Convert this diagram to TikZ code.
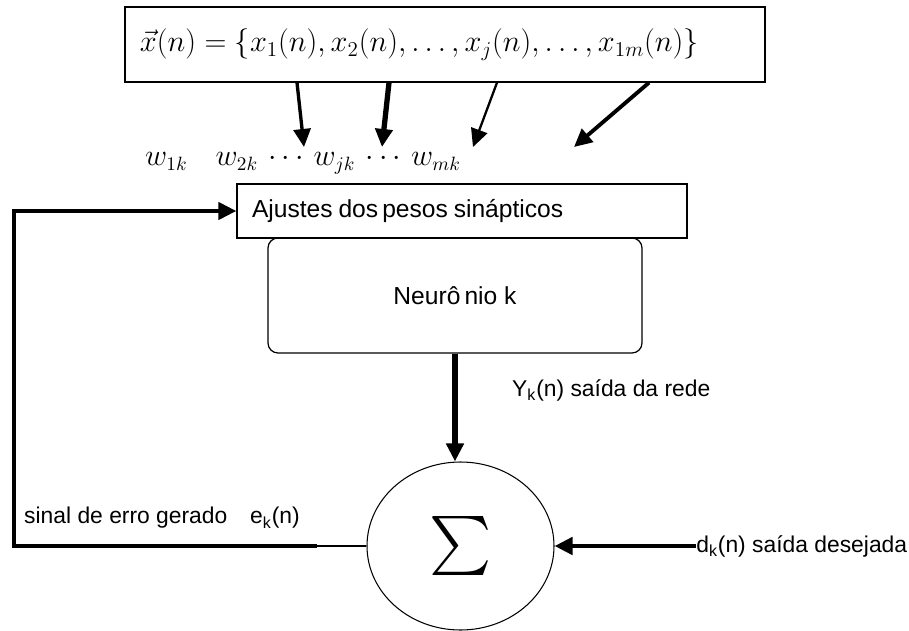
\documentclass[tikz,border=0pt]{standalone}
\usepackage{amsmath}
\usepackage{exscale}
\usepackage{graphicx}
\usepackage{fontspec}
\setmainfont{Liberation Sans}
\usepackage{tikz}
\usetikzlibrary{arrows.meta,positioning,calc,shapes.geometric}
\newcommand{\lbl}{\fontsize{13}{15}\selectfont}

\begin{document}
\begin{tikzpicture}[
    box/.style={draw, line width=0.7pt, inner sep=0pt},
    tip/.style={-{Triangle[length=0.36cm, width=0.34cm]}},
  ]
      \useasboundingbox (0, 0) rectangle (18.18, 12.6);

      \node[box, text width=12.2cm, inner xsep=0.3cm, minimum height=1.5cm, align=left] (xvec) at (8.9, 11.71)
        {\fontsize{17.5}{20}\selectfont $\vec{x}(n) = \{x_1(n), x_2(n), \ldots, x_j(n), \ldots, x_{1m}(n)\}$};

      \coordinate (w1) at (6.08, 9.66);
      \coordinate (w2) at (7.64, 9.66);
      \coordinate (w3) at (9.46, 9.66);
      \coordinate (w4) at (11.48, 9.66);
      \draw[tip, line width=1.9pt] ([xshift=-2.96cm]xvec.south) -- (w1);
      \draw[tip, line width=3pt] ([xshift=-1.12cm]xvec.south) -- (w2);
      \draw[tip, line width=1.3pt] ([xshift=1.04cm]xvec.south) -- (w3);
      \draw[tip, line width=2.2pt] ([xshift=4.08cm]xvec.south) -- (w4);

      \node (wts) at (6.06, 9.34) {\fontsize{16}{18}\selectfont $w_{1k}\quad w_{2k}\,\cdots\,w_{jk}\,\cdots\,w_{mk}$};

      \node[box, text width=8.4cm, inner xsep=0.3cm, minimum height=1.08cm, align=left] (ajuste) at (9.24, 8.38)
        {\fontsize{14}{16}\selectfont Ajustes dos\,pesos sinápticos};
      \node[box, rounded corners=0.2cm, minimum width=7.48cm, minimum height=2.3cm] (neuron) at (9.1, 6.69)
        {\fontsize{14}{16}\selectfont Neurô\,nio k};

      \node[draw, ellipse, line width=0.6pt, minimum width=3.74cm, minimum height=3.36cm, inner sep=0pt] (sum) at (9.21, 1.68)
        {\fontsize{34}{40}\selectfont \scalebox{1.35}{$\textstyle\sum$}};

      \draw[tip, line width=3pt] (neuron.south) -- (neuron.south |- sum.north);
      \node[anchor=west] (yout) at (10.12, 4.8) {\lbl Y\textsubscript{k}(n) saída da rede};

      \coordinate (cut) at (6.34, 1.68);
      \coordinate (corner) at (0.28, 1.68);
      \draw[line width=0.6pt] (sum.west) -- (cut);
      \draw[tip, line width=2.4pt] (cut) -- (corner) |- (ajuste.west);
      \node[anchor=west] (erro) at (0.36, 2.24) {\lbl sinal de erro gerado\quad e\textsubscript{k}(n)};

      \node[anchor=west, inner sep=0pt] (dout) at (13.92, 1.68) {\lbl d\textsubscript{k}(n) saída desejada};
      \draw[tip, line width=2.8pt] (dout.west) -- (sum.east);
\end{tikzpicture}
\end{document}
